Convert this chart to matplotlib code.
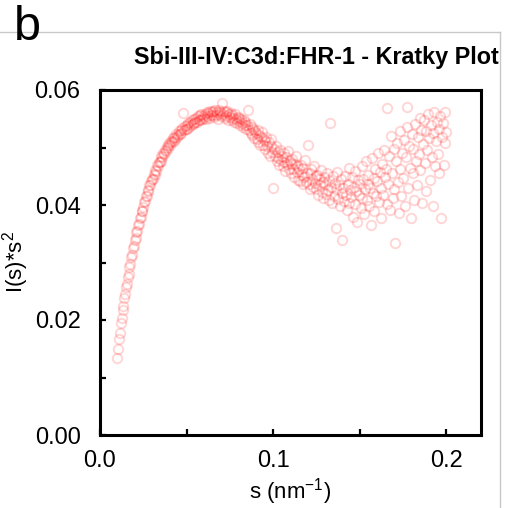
import matplotlib
matplotlib.use('Agg')
import matplotlib.pyplot as plt
from matplotlib.lines import Line2D
from matplotlib.ticker import MultipleLocator, FormatStrFormatter

plt.rcParams['font.family'] = ['Liberation Sans', 'DejaVu Sans']
plt.rcParams['mathtext.fontset'] = 'custom'
plt.rcParams['mathtext.rm'] = 'Liberation Sans'
plt.rcParams['mathtext.it'] = 'Liberation Sans'

# s (nm^-1)
s_vals = [
    0.0100, 0.0105, 0.0110, 0.0115, 0.0120, 0.0125, 0.0130, 0.0135, 0.0140, 0.0145,
    0.0150, 0.0155, 0.0160, 0.0165, 0.0170, 0.0175, 0.0180, 0.0185, 0.0190, 0.0195,
    0.0200, 0.0205, 0.0210, 0.0215, 0.0220, 0.0225, 0.0230, 0.0235, 0.0240, 0.0245,
    0.0250, 0.0255, 0.0260, 0.0265, 0.0270, 0.0275, 0.0280, 0.0285, 0.0290, 0.0295,
    0.0300, 0.0305, 0.0310, 0.0315, 0.0320, 0.0325, 0.0330, 0.0335, 0.0340, 0.0345,
    0.0350, 0.0355, 0.0360, 0.0365, 0.0370, 0.0375, 0.0380, 0.0385, 0.0390, 0.0395,
    0.0400, 0.0405, 0.0410, 0.0415, 0.0420, 0.0425, 0.0430, 0.0435, 0.0440, 0.0445,
    0.0450, 0.0455, 0.0460, 0.0465, 0.0470, 0.0475, 0.0480, 0.0485, 0.0490, 0.0495,
    0.0500, 0.0505, 0.0510, 0.0515, 0.0520, 0.0525, 0.0530, 0.0535, 0.0540, 0.0545,
    0.0550, 0.0555, 0.0560, 0.0565, 0.0570, 0.0575, 0.0580, 0.0585, 0.0590, 0.0595,
    0.0600, 0.0605, 0.0610, 0.0615, 0.0620, 0.0625, 0.0630, 0.0635, 0.0640, 0.0645,
    0.0650, 0.0655, 0.0660, 0.0665, 0.0670, 0.0675, 0.0680, 0.0685, 0.0690, 0.0695,
    0.0700, 0.0705, 0.0710, 0.0715, 0.0720, 0.0725, 0.0730, 0.0735, 0.0740, 0.0745,
    0.0750, 0.0755, 0.0760, 0.0765, 0.0770, 0.0775, 0.0780, 0.0785, 0.0790, 0.0795,
    0.0800, 0.0805, 0.0810, 0.0815, 0.0820, 0.0825, 0.0830, 0.0835, 0.0840, 0.0845,
    0.0850, 0.0855, 0.0860, 0.0865, 0.0870, 0.0875, 0.0880, 0.0885, 0.0890, 0.0895,
    0.0900, 0.0905, 0.0910, 0.0915, 0.0920, 0.0925, 0.0930, 0.0935, 0.0940, 0.0945,
    0.0950, 0.0955, 0.0960, 0.0965, 0.0970, 0.0975, 0.0980, 0.0985, 0.0990, 0.0995,
    0.1000, 0.1005, 0.1010, 0.1015, 0.1020, 0.1025, 0.1030, 0.1035, 0.1040, 0.1045,
    0.1050, 0.1055, 0.1060, 0.1065, 0.1070, 0.1075, 0.1080, 0.1085, 0.1090, 0.1095,
    0.1100, 0.1105, 0.1110, 0.1115, 0.1120, 0.1125, 0.1130, 0.1135, 0.1140, 0.1145,
    0.1150, 0.1155, 0.1160, 0.1165, 0.1170, 0.1175, 0.1180, 0.1185, 0.1190, 0.1195,
    0.1200, 0.1205, 0.1210, 0.1215, 0.1220, 0.1225, 0.1230, 0.1235, 0.1240, 0.1245,
    0.1250, 0.1255, 0.1260, 0.1265, 0.1270, 0.1275, 0.1280, 0.1285, 0.1290, 0.1295,
    0.1300, 0.1305, 0.1310, 0.1315, 0.1320, 0.1325, 0.1330, 0.1335, 0.1340, 0.1345,
    0.1350, 0.1355, 0.1360, 0.1365, 0.1370, 0.1375, 0.1380, 0.1385, 0.1390, 0.1395,
    0.1400, 0.1405, 0.1410, 0.1415, 0.1420, 0.1425, 0.1430, 0.1435, 0.1440, 0.1445,
    0.1450, 0.1455, 0.1460, 0.1465, 0.1470, 0.1475, 0.1480, 0.1485, 0.1490, 0.1495,
    0.1500, 0.1505, 0.1510, 0.1515, 0.1520, 0.1525, 0.1530, 0.1535, 0.1540, 0.1545,
    0.1550, 0.1555, 0.1560, 0.1565, 0.1570, 0.1575, 0.1580, 0.1585, 0.1590, 0.1595,
    0.1600, 0.1605, 0.1610, 0.1615, 0.1620, 0.1625, 0.1630, 0.1635, 0.1640, 0.1645,
    0.1650, 0.1655, 0.1660, 0.1665, 0.1670, 0.1675, 0.1680, 0.1685, 0.1690, 0.1695,
    0.1700, 0.1705, 0.1710, 0.1715, 0.1720, 0.1725, 0.1730, 0.1735, 0.1740, 0.1745,
    0.1750, 0.1755, 0.1760, 0.1765, 0.1770, 0.1775, 0.1780, 0.1785, 0.1790, 0.1795,
    0.1800, 0.1805, 0.1810, 0.1815, 0.1820, 0.1825, 0.1830, 0.1835, 0.1840, 0.1845,
    0.1850, 0.1855, 0.1860, 0.1865, 0.1870, 0.1875, 0.1880, 0.1885, 0.1890, 0.1895,
    0.1900, 0.1905, 0.1910, 0.1915, 0.1920, 0.1925, 0.1930, 0.1935, 0.1940, 0.1945,
    0.1950, 0.1955, 0.1960, 0.1965, 0.1970, 0.1975, 0.1980, 0.1985, 0.1990, 0.1995,
    0.2000,
]

# I(s)*s^2
kratky_vals = [
    0.0134, 0.0149, 0.0167, 0.0178, 0.0195, 0.0204, 0.0218, 0.0225, 0.0238, 0.0245,
    0.0257, 0.0262, 0.0275, 0.0280, 0.0293, 0.0297, 0.0309, 0.0313, 0.0325, 0.0328,
    0.0339, 0.0342, 0.0353, 0.0355, 0.0366, 0.0367, 0.0377, 0.0379, 0.0390, 0.0390,
    0.0396, 0.0406, 0.0407, 0.0415, 0.0416, 0.0425, 0.0426, 0.0434, 0.0434, 0.0442,
    0.0446, 0.0446, 0.0454, 0.0453, 0.0461, 0.0460, 0.0469, 0.0467, 0.0475, 0.0474,
    0.0477, 0.0485, 0.0483, 0.0491, 0.0489, 0.0496, 0.0494, 0.0501, 0.0499, 0.0505,
    0.0508, 0.0504, 0.0512, 0.0509, 0.0516, 0.0512, 0.0519, 0.0515, 0.0523, 0.0519,
    0.0521, 0.0528, 0.0523, 0.0531, 0.0526, 0.0534, 0.0560, 0.0530, 0.0537, 0.0533,
    0.0540, 0.0533, 0.0542, 0.0536, 0.0545, 0.0539, 0.0548, 0.0541, 0.0550, 0.0543,
    0.0544, 0.0551, 0.0545, 0.0555, 0.0548, 0.0556, 0.0547, 0.0558, 0.0550, 0.0555,
    0.0552, 0.0559, 0.0550, 0.0561, 0.0554, 0.0560, 0.0551, 0.0563, 0.0556, 0.0561,
    0.0557, 0.0563, 0.0553, 0.0565, 0.0556, 0.0562, 0.0549, 0.0566, 0.0558, 0.0562,
    0.0555, 0.0577, 0.0558, 0.0564, 0.0551, 0.0561, 0.0554, 0.0563, 0.0548, 0.0559,
    0.0553, 0.0560, 0.0547, 0.0557, 0.0552, 0.0545, 0.0558, 0.0550, 0.0543, 0.0553,
    0.0546, 0.0552, 0.0540, 0.0549, 0.0543, 0.0536, 0.0548, 0.0539, 0.0545, 0.0533,
    0.0539, 0.0565, 0.0530, 0.0541, 0.0525, 0.0535, 0.0521, 0.0533, 0.0516, 0.0529,
    0.0526, 0.0515, 0.0531, 0.0510, 0.0522, 0.0504, 0.0519, 0.0527, 0.0505, 0.0514,
    0.0512, 0.0497, 0.0519, 0.0503, 0.0490, 0.0510, 0.0486, 0.0502, 0.0514, 0.0493,
    0.0430, 0.0498, 0.0485, 0.0503, 0.0476, 0.0492, 0.0481, 0.0470, 0.0495, 0.0478,
    0.0486, 0.0468, 0.0491, 0.0474, 0.0460, 0.0483, 0.0471, 0.0494, 0.0462, 0.0476,
    0.0473, 0.0455, 0.0480, 0.0463, 0.0449, 0.0471, 0.0486, 0.0458, 0.0467, 0.0444,
    0.0462, 0.0441, 0.0470, 0.0452, 0.0437, 0.0465, 0.0448, 0.0478, 0.0440, 0.0456,
    0.0504, 0.0436, 0.0455, 0.0428, 0.0462, 0.0445, 0.0431, 0.0468, 0.0439, 0.0450,
    0.0427, 0.0452, 0.0418, 0.0446, 0.0434, 0.0461, 0.0422, 0.0440, 0.0413, 0.0449,
    0.0437, 0.0419, 0.0455, 0.0426, 0.0409, 0.0444, 0.0543, 0.0431, 0.0404, 0.0450,
    0.0416, 0.0439, 0.0360, 0.0428, 0.0457, 0.0411, 0.0434, 0.0398, 0.0446, 0.0420,
    0.0340, 0.0429, 0.0407, 0.0451, 0.0418, 0.0392, 0.0437, 0.0465, 0.0403, 0.0426,
    0.0414, 0.0448, 0.0380, 0.0431, 0.0459, 0.0402, 0.0425, 0.0371, 0.0443, 0.0417,
    0.0436, 0.0395, 0.0468, 0.0412, 0.0445, 0.0384, 0.0428, 0.0476, 0.0409, 0.0437,
    0.0452, 0.0398, 0.0430, 0.0366, 0.0481, 0.0421, 0.0447, 0.0389, 0.0462, 0.0415,
    0.0441, 0.0490, 0.0406, 0.0458, 0.0377, 0.0429, 0.0472, 0.0418, 0.0495, 0.0448,
    0.0463, 0.0401, 0.0569, 0.0436, 0.0485, 0.0392, 0.0520, 0.0455, 0.0413, 0.0498,
    0.0427, 0.0334, 0.0476, 0.0508, 0.0440, 0.0386, 0.0529, 0.0462, 0.0415, 0.0491,
    0.0447, 0.0513, 0.0399, 0.0483, 0.0536, 0.0571, 0.0430, 0.0502, 0.0465, 0.0378,
    0.0524, 0.0456, 0.0497, 0.0409, 0.0541, 0.0476, 0.0435, 0.0518, 0.0488, 0.0551,
    0.0461, 0.0530, 0.0404, 0.0506, 0.0547, 0.0473, 0.0529, 0.0425, 0.0495, 0.0558,
    0.0517, 0.0443, 0.0539, 0.0484, 0.0398, 0.0526, 0.0562, 0.0468, 0.0511, 0.0545,
    0.0489, 0.0532, 0.0455, 0.0554, 0.0377, 0.0519, 0.0543, 0.0470, 0.0562, 0.0508,
    0.0527,
]

title = 'Sbi-III-IV:C3d:FHR-1 - Kratky Plot'
panel = 'b'

W, H = 505, 508
fig = plt.figure(figsize=(W / 100, H / 100), dpi=100)
ax = fig.add_axes([100 / W, 1 - 435 / H, 381 / W, 345 / H])

ax.plot(s_vals, kratky_vals, linestyle='none', marker='o', markersize=6.8,
        markerfacecolor='none', markeredgecolor='red', markeredgewidth=1.4,
        alpha=0.16)

ax.set_xlim(0, 0.22)
ax.set_ylim(0, 0.06)
ax.xaxis.set_major_locator(MultipleLocator(0.1))
ax.xaxis.set_minor_locator(MultipleLocator(0.05))
ax.yaxis.set_major_locator(MultipleLocator(0.02))
ax.yaxis.set_minor_locator(MultipleLocator(0.01))
ax.xaxis.set_major_formatter(FormatStrFormatter('%.1f'))
ax.yaxis.set_major_formatter(FormatStrFormatter('%.2f'))

for sp in ax.spines.values():
    sp.set_linewidth(2.2)
ax.tick_params(which='both', direction='in', length=4.5, width=1.6,
               labelsize=17, top=False, right=False)
ax.tick_params(axis='y', which='both', pad=14)
ax.tick_params(axis='x', which='both', pad=11)

ax.set_xlabel(r's (nm$^{\mathregular{-1}}$)', fontsize=16)
ax.set_ylabel(r'I(s)*s$^{\mathregular{2}}$', fontsize=16)
ax.xaxis.set_label_coords((290 - 100) / 381, -(492 - 435) / 345)
ax.yaxis.set_label_coords(-(100 - 16) / 381, 0.5)
ax.xaxis.label.set_va('center')
ax.yaxis.label.set_va('center')

# grey panel frame
fig.add_artist(Line2D([0, 500 / W], [1 - 32 / H, 1 - 32 / H],
                      transform=fig.transFigure, color='#c8c8c8', lw=1))
fig.add_artist(Line2D([500 / W, 500 / W], [1 - 32 / H, 0],
                      transform=fig.transFigure, color='#c8c8c8', lw=1))

fig.text(14 / W, 1 - 40 / H, panel, fontsize=35, va='baseline', ha='left')
fig.text(499 / W, 1 - 64 / H, title, fontsize=16.8, fontweight='bold',
         va='baseline', ha='right')

fig.savefig('out.png', dpi=100)
